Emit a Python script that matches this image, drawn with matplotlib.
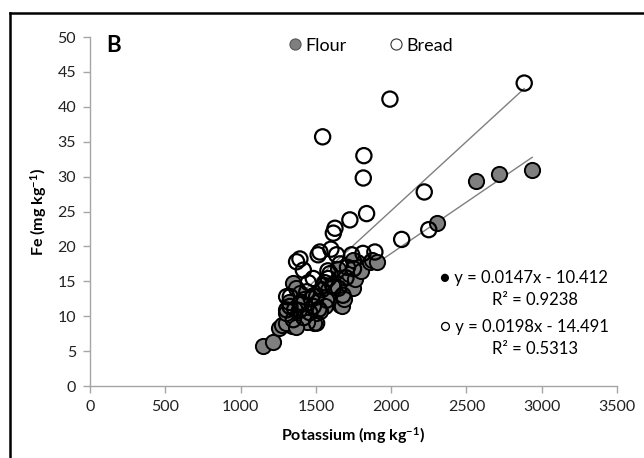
import matplotlib
matplotlib.use("Agg")
import matplotlib.pyplot as plt
from matplotlib.lines import Line2D
import numpy as np

plt.rcParams['font.family'] = ['Lato', 'DejaVu Sans']
plt.rcParams['mathtext.default'] = 'regular'

# Flour: potassium (mg/kg), Fe (mg/kg)
flour_k = [1150, 1215, 1255, 1275, 1340, 1300, 1350, 1380, 1400, 1420, 1450, 1480,
           1490, 1500, 1350, 1370, 1394, 1420, 1450, 1480, 1520, 1549, 1580, 1600,
           1638, 1660, 1671, 1682, 1700, 1720, 1748, 1760, 1771, 1748, 1800, 1859,
           1870, 1904, 1650, 1560, 1400, 1300, 1320, 1440, 1530, 1610, 1690, 1370,
           2302, 2563, 2718, 2937]
flour_fe = [5.7, 6.3, 8.3, 8.7, 8.6, 9.0, 10.0, 10.5, 9.5, 11.0, 10.2, 9.4,
            9.0, 10.5, 14.7, 14.0, 13.3, 12.5, 12.0, 13.0, 12.2, 14.5, 13.8, 12.8,
            15.2, 11.6, 11.4, 13.3, 14.8, 16.0, 14.0, 15.4, 17.8, 18.0, 16.5, 17.8,
            18.0, 17.8, 16.8, 11.5, 11.8, 10.5, 12.0, 9.2, 10.8, 14.5, 12.5, 8.5,
            23.4, 29.4, 30.4, 30.9]

# Bread
bread_k = [1545, 1992, 2884, 1819, 1815, 2220, 1837, 1726, 1627, 1616, 2070, 2250,
           1527, 1394, 1372, 1417, 1515, 1638, 1813, 1892, 1738, 1594, 1583, 1483,
           1306, 1328, 1306, 1505, 1572, 1483, 1505, 1600, 1580, 1360, 1400, 1440,
           1460, 1540, 1620, 1680, 1700, 1750, 1660, 1420, 1350, 1450, 1390, 1470,
           1520, 1560, 1650, 1330, 1710]
bread_fe = [35.7, 41.1, 43.4, 33.0, 29.8, 27.8, 24.7, 23.8, 22.6, 21.9, 21.0, 22.4,
            19.2, 18.2, 17.8, 16.6, 18.8, 18.8, 19.0, 19.2, 18.8, 16.1, 15.4, 15.4,
            12.8, 11.4, 10.9, 12.8, 12.3, 11.4, 9.0, 19.6, 16.5, 11.0, 12.0, 13.5,
            10.5, 13.8, 14.2, 13.0, 15.5, 16.8, 17.5, 9.8, 9.5, 14.8, 10.8, 12.5,
            11.0, 14.8, 14.0, 12.8, 17.0]

# Trend line coefficients (as printed on chart)
flour_fit = (0.0147, -10.412)
bread_fit = (0.0198, -14.491)
flour_r2 = 0.9238
bread_r2 = 0.5313

fig = plt.figure(figsize=(6.44, 4.58), dpi=100)
ax = fig.add_axes([0.1398, 0.1572, 0.958 - 0.1398, 0.9192 - 0.1572])

# trend lines
for k, (m, b) in ((flour_k, flour_fit), (bread_k, bread_fit)):
    xs = np.array([min(k), max(k)])
    ax.plot(xs, m * xs + b, color='#7f7f7f', lw=1.0, zorder=1)

ax.scatter(flour_k, flour_fe, s=120, facecolor='#7f7f7f', edgecolor='black',
           linewidths=1.4, zorder=2, label='Flour')
ax.scatter(bread_k, bread_fe, s=120, facecolor='none', edgecolor='black',
           linewidths=1.6, zorder=3, label='Bread')

ax.set_xlim(0, 3500)
ax.set_ylim(0, 50)
ax.set_xticks(np.arange(0, 3501, 500))
ax.set_yticks(np.arange(0, 51, 5))
for s in ('top', 'right'):
    ax.spines[s].set_visible(False)
for s in ('left', 'bottom'):
    ax.spines[s].set_color('#a6a6a6')
    ax.spines[s].set_linewidth(1.0)
ax.tick_params(direction='out', length=5, width=1.0, color='#a6a6a6',
               labelsize=11.5, labelcolor='#222222', pad=5)

ax.set_xlabel(r'Potassium (mg kg$^{-1}$)', fontsize=11.5, fontweight='bold', labelpad=8)
ax.set_ylabel(r'Fe (mg kg$^{-1}$)', fontsize=11.5, fontweight='bold', labelpad=6)

ax.text(0.03, 0.975, 'B', transform=ax.transAxes, fontsize=16, fontweight='bold',
        ha='left', va='center')

handles = [Line2D([], [], marker='o', ls='none', markersize=8, markerfacecolor='#7f7f7f',
                  markeredgecolor='#555555', markeredgewidth=0.8),
           Line2D([], [], marker='o', ls='none', markersize=8, markerfacecolor='white',
                  markeredgecolor='#333333', markeredgewidth=0.8)]
ax.legend(handles, ['Flour', 'Bread'], loc='center', bbox_to_anchor=(0.53, 0.975),
          ncol=2, frameon=False, fontsize=13, handletextpad=0.1, columnspacing=2.2,
          handlelength=1.0, borderaxespad=0)

ax.text(0.824, 0.309, '\u25cf y = %.4fx - %.3f' % (flour_fit[0], -flour_fit[1]),
        transform=ax.transAxes, ha='center', va='center', fontsize=12)
ax.text(0.845, 0.246, 'R\u00b2 = %.4f' % flour_r2,
        transform=ax.transAxes, ha='center', va='center', fontsize=12)
ax.text(0.824, 0.169, '\u25cb y = %.4fx - %.3f' % (bread_fit[0], -bread_fit[1]),
        transform=ax.transAxes, ha='center', va='center', fontsize=12)
ax.text(0.845, 0.106, 'R\u00b2 = %.4f' % bread_r2,
        transform=ax.transAxes, ha='center', va='center', fontsize=12)

# outer frame (left and top)
fig.add_artist(Line2D([0.0163, 0.0163], [0.0, 0.9716], color='black', lw=1.8,
                      transform=fig.transFigure))
fig.add_artist(Line2D([0.0163, 1.0], [0.9716, 0.9716], color='black', lw=1.8,
                      transform=fig.transFigure))

fig.savefig('out.png', dpi=100)
